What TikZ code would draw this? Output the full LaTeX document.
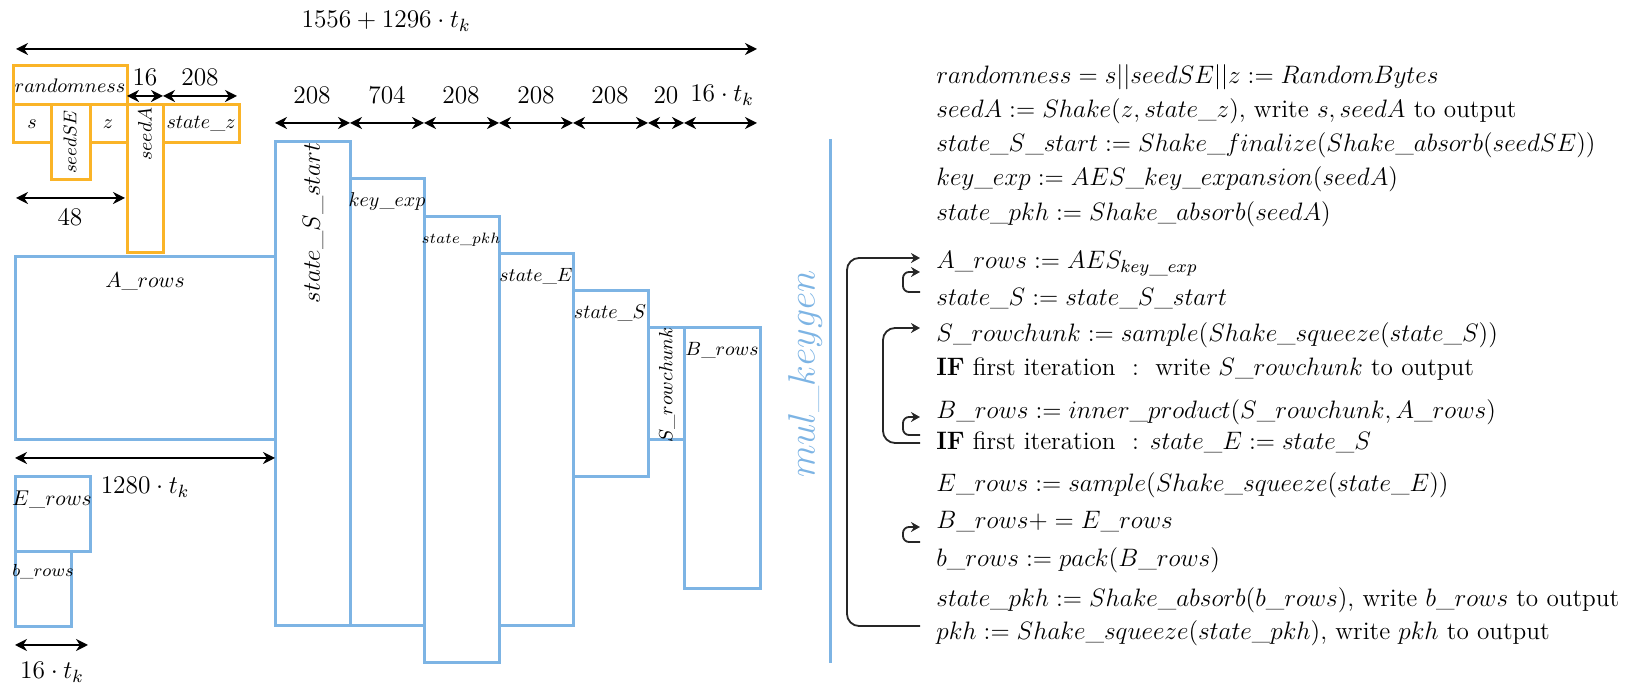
\RequirePackage{fix-cm}
\documentclass[tikz,border=0pt]{standalone}
\usetikzlibrary{arrows.meta,calc}
\definecolor{orng}{RGB}{250,180,40}
\definecolor{blu}{RGB}{125,180,228}
\begin{document}
\begin{tikzpicture}[x=0.5pt,y=-0.5pt,
  every node/.style={inner sep=0pt},
  obox/.style={draw=orng,line width=1.5pt},
  bbox/.style={draw=blu,line width=1.5pt},
  dim/.style={line width=1pt,{Stealth[length=6pt,width=6pt]}-{Stealth[length=6pt,width=6pt]}},
  dlab/.style={font=\fontsize{12.7}{15}\selectfont},
  txt/.style={anchor=west,text height=9pt,text depth=3pt,font=\fontsize{12.6}{15}\selectfont},
  loopl/.style={draw=black!85,line width=0.9pt,rounded corners=3pt,-{Stealth[length=4.5pt,width=5pt]}},
  bigloop/.style={loopl,rounded corners=6pt}]
\useasboundingbox (0,0) rectangle (1635,688);

% ---- orange boxes
\draw[obox] (13,66) rectangle (127,105);
\draw[obox] (13,105) rectangle (51,143);
\draw[obox] (51,105) rectangle (90,180);
\draw[obox] (90,105) rectangle (127,143);
\draw[obox] (127,105) rectangle (163,253);
\draw[obox] (163,105) rectangle (239,143);
\node[font=\fontsize{9.8}{11}\selectfont] (lrand) at (70,86) {$randomness$};
\node[font=\fontsize{10}{12}\selectfont] (ls) at (32,124) {$s$};
\node[font=\fontsize{9.2}{11}\selectfont,rotate=90] (lseedSE) at (70,142) {$seedSE$};
\node[font=\fontsize{10}{12}\selectfont] (lz) at (108,124) {$z$};
\node[font=\fontsize{9.7}{11}\selectfont,rotate=90] (lseedA) at (145,134) {$seedA$};
\node[font=\fontsize{10}{12}\selectfont] (lstatez) at (201,124) {$state\_z$};

% ---- blue boxes
\draw[bbox] (15,257) rectangle (275,440);
\draw[bbox] (15,477) rectangle (90,552);
\draw[bbox] (15,552) rectangle (71,627);
\draw[bbox] (275,142) rectangle (350,626);
\draw[bbox] (350,179) rectangle (424,626);
\draw[bbox] (424,217) rectangle (499,663);
\draw[bbox] (499,254) rectangle (573,626);
\draw[bbox] (573,291) rectangle (648,477);
\draw[bbox] (648,328) rectangle (684,440);
\draw[bbox] (684,328) rectangle (760,589);
\node[font=\fontsize{10.8}{12}\selectfont] (lA) at (145,282) {$A\_rows$};
\node[font=\fontsize{10.7}{12}\selectfont] (lE) at (52,500) {$E\_rows$};
\node[font=\fontsize{8.7}{10}\selectfont] (lb) at (43,572) {$b\_rows$};
\node[font=\fontsize{12.5}{14}\selectfont,rotate=90] (lSS) at (313,223) {$state\_S\_start$};
\node[font=\fontsize{10}{12}\selectfont] (lkey) at (387,202) {$key\_exp$};
\node[font=\fontsize{7.5}{9}\selectfont] (lpkh) at (461,240) {$state\_pkh$};
\node[font=\fontsize{9.6}{11}\selectfont] (lstE) at (536,276) {$state\_E$};
\node[font=\fontsize{10}{12}\selectfont] (lstS) at (610,313) {$state\_S$};
\node[font=\fontsize{9.6}{11}\selectfont,rotate=90] (lSrc) at (667,385) {$S\_rowchunk$};
\node[font=\fontsize{9.6}{11}\selectfont] (lB) at (722,350) {$B\_rows$};

% ---- dimension arrows
\draw[dim] (16,49) -- (757,49);
\node[dlab] (dtot) at (386,21) {$1556+1296\cdot t_k$};
\draw[dim] (127,96) -- (163,96);
\node[dlab] (d16) at (145,77) {$16$};
\draw[dim] (163,96) -- (237,96);
\node[dlab] (d208a) at (200,77) {$208$};
\draw[dim] (16,198) -- (125,198);
\node[dlab] (d48) at (70,217) {$48$};
\draw[dim] (275,123) -- (350,123);
\draw[dim] (350,123) -- (424,123);
\draw[dim] (424,123) -- (499,123);
\draw[dim] (499,123) -- (573,123);
\draw[dim] (573,123) -- (648,123);
\draw[dim] (648,123) -- (684,123);
\draw[dim] (684,123) -- (757,123);
\node[dlab] (c1) at (312,95) {$208$};
\node[dlab] (c2) at (387,95) {$704$};
\node[dlab] (c3) at (461,95) {$208$};
\node[dlab] (c4) at (536,95) {$208$};
\node[dlab] (c5) at (610,95) {$208$};
\node[dlab] (c6) at (666,95) {$20$};
\node[dlab] (c7) at (722,95) {$16\cdot t_k$};
\draw[dim] (15,458) -- (275,458);
\node[dlab] (d1280) at (145,487) {$1280\cdot t_k$};
\draw[dim] (15,645) -- (88,645);
\node[dlab] (d16t) at (52,672) {$16\cdot t_k$};

% ---- separator and label
\draw[blu,line width=1.5pt] (830,139) -- (830,663);
\node[rotate=90,text=blu,font=\fontsize{19}{22}\selectfont] (mk) at (805,374) {$mul\_keygen$};

% ---- algorithm text
\node[txt] (t1) at (936,78) {$randomness = s||seedSE||z := RandomBytes$};
\node[txt] (t2) at (936,112) {$seedA := Shake(z, state\_z)$, write $s, seedA$ to output};
\node[txt] (t3) at (936,146) {$state\_S\_start := Shake\_finalize(Shake\_absorb(seedSE))$};
\node[txt] (t4) at (936,180) {$key\_exp := AES\_key\_expansion(seedA)$};
\node[txt] (t5) at (936,215) {$state\_pkh := Shake\_absorb(seedA)$};
\node[txt] (t6) at (936,263) {$A\_rows := AES_{key\_exp}$};
\node[txt] (t7) at (936,300) {$state\_S := state\_S\_start$};
\node[txt] (t8) at (936,336) {$S\_rowchunk := sample(Shake\_squeeze(state\_S))$};
\node[txt] (t9) at (936,370) {\textbf{IF} first iteration\ \ :\ \ write $S\_rowchunk$ to output};
\node[txt] (t10) at (936,413) {$B\_rows := inner\_product(S\_rowchunk, A\_rows)$};
\node[txt] (t11) at (936,444) {\textbf{IF} first iteration\ \ : $state\_E := state\_S$};
\node[txt] (t12) at (936,486) {$E\_rows := sample(Shake\_squeeze(state\_E))$};
\node[txt] (t13) at (936,523) {$B\_rows+ = E\_rows$};
\node[txt] (t14) at (936,561) {$b\_rows := pack(B\_rows)$};
\node[txt] (t15) at (936,601) {$state\_pkh := Shake\_absorb(b\_rows)$, write $b\_rows$ to output};
\node[txt] (t16) at (936,634) {$pkh := Shake\_squeeze(state\_pkh)$, write $pkh$ to output};

% ---- loops
\draw[bigloop] ($(t16.west)+(-16,-8)$) -| ($(t6.west)+(-89,-5)$) -- ($(t6.west)+(-16,-5)$);
\draw[loopl] ($(t7.west)+(-16,-8)$) -| ($(t6.west)+(-33,9)$) -- ($(t6.west)+(-16,9)$);
\draw[bigloop] ($(t11.west)+(-16,-1)$) -| ($(t8.west)+(-53,-8)$) -- ($(t8.west)+(-16,-8)$);
\draw[loopl] ($(t11.west)+(-16,-9)$) -| ($(t10.west)+(-33,4)$) -- ($(t10.west)+(-16,4)$);
\draw[loopl] ($(t13.west)+(-16,19)$) -| ($(t13.west)+(-33,4)$) -- ($(t13.west)+(-16,4)$);
\end{tikzpicture}
\end{document}
